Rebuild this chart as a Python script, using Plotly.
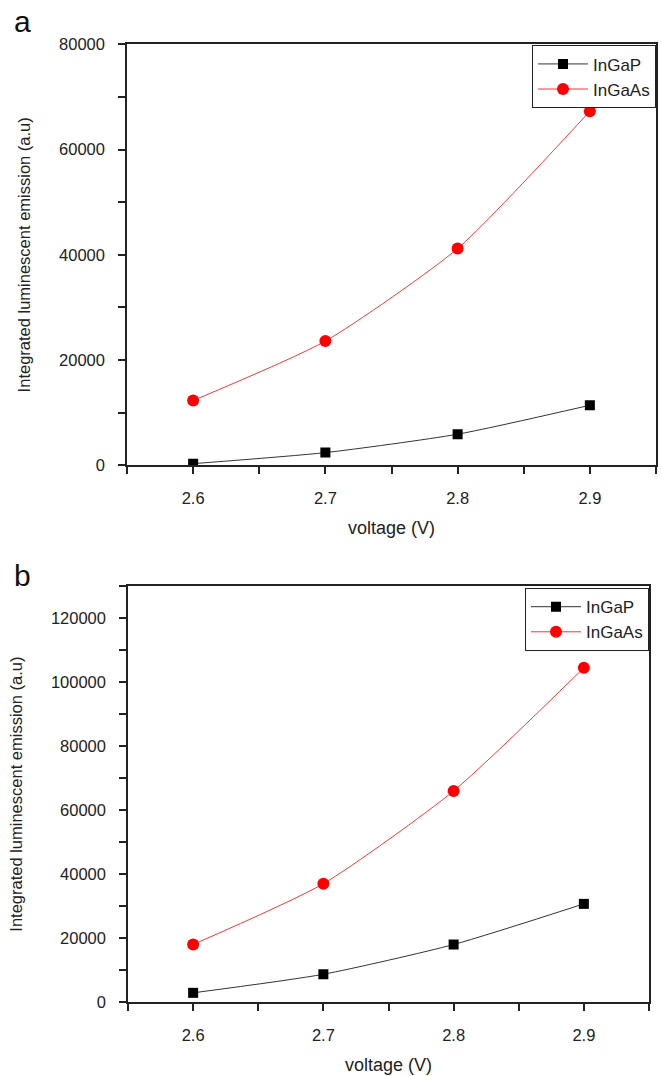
import plotly.graph_objects as go

# Applied voltage (V)
voltage = [2.6, 2.7, 2.8, 2.9]

# Panel a: integrated luminescent emission (a.u)
a_ingap = [300, 2400, 5900, 11400]
a_ingaas = [12300, 23600, 41200, 67300]

# Panel b: integrated luminescent emission (a.u)
b_ingap = [2900, 8700, 18000, 30700]
b_ingaas = [18000, 37000, 66000, 104500]

W, H = 662, 1076
FONT = "Liberation Sans, Arial, sans-serif"
AXC = "#222222"


def py(px):
    return 1 - px / H


fig = go.Figure()

series = [
    ("x", "y", "legend", a_ingap, a_ingaas),
    ("x2", "y2", "legend2", b_ingap, b_ingaas),
]
for xa, ya, lg, gap, gaas in series:
    fig.add_trace(go.Scatter(
        x=voltage, y=gap, name="InGaP", xaxis=xa, yaxis=ya, legend=lg,
        mode="lines+markers", line=dict(color="#333333", width=1, shape="spline", smoothing=0.6),
        marker=dict(symbol="square", size=10, color="black"),
    ))
    fig.add_trace(go.Scatter(
        x=voltage, y=gaas, name="InGaAs", xaxis=xa, yaxis=ya, legend=lg,
        mode="lines+markers", line=dict(color="#ff3333", width=1, shape="spline", smoothing=0.6),
        marker=dict(symbol="circle", size=12, color="#ff0000"),
    ))

xcommon = dict(
    range=[2.55, 2.95], tick0=2.6, dtick=0.1, ticks="outside", ticklen=7, tickwidth=1.5,
    tickcolor=AXC, showline=True, linecolor=AXC, linewidth=1.5, mirror=True,
    showgrid=False, zeroline=False, tickfont=dict(size=16.5, color="#222"),
    minor=dict(dtick=0.05, tick0=2.55, ticks="outside", ticklen=7, tickwidth=1.5, tickcolor=AXC),
    title=dict(text="voltage (V)", font=dict(size=18, color="#222"), standoff=16),
    ticklabelstandoff=10,
)
ycommon = dict(
    ticks="outside", ticklen=7, tickwidth=1.5, tickcolor=AXC, showline=True,
    linecolor=AXC, linewidth=1.5, mirror=True, showgrid=False, zeroline=False,
    tickformat="d", tickfont=dict(size=16.5, color="#222"), ticklabelstandoff=10,
    title=dict(text="Integrated luminescent emission (a.u)", font=dict(size=16.5, color="#222"),
               standoff=24),
)

legend_style = dict(
    xanchor="right", yanchor="top", bordercolor=AXC, borderwidth=1, bgcolor="white",
    font=dict(size=17, color="#222"), tracegroupgap=0, itemwidth=50,
)

fig.update_layout(
    width=W, height=H, margin=dict(l=0, r=0, t=0, b=0),
    paper_bgcolor="white", plot_bgcolor="white",
    font=dict(family=FONT, color="#222"),
    xaxis=dict(domain=[127 / W, 656 / W], anchor="y", **xcommon),
    yaxis=dict(domain=[py(464), py(36)], anchor="x", range=[0, 80000], dtick=20000,
               minor=dict(dtick=10000, ticks="outside", ticklen=7, tickwidth=1.5, tickcolor=AXC),
               **ycommon),
    xaxis2=dict(domain=[128 / W, 649 / W], anchor="y2", **xcommon),
    yaxis2=dict(domain=[py(1010), py(587)], anchor="x2", range=[0, 130000], dtick=20000,
                minor=dict(dtick=10000, ticks="outside", ticklen=7, tickwidth=1.5, tickcolor=AXC),
                **ycommon),
    legend=dict(x=656 / W, y=py(37), **legend_style),
    legend2=dict(x=649 / W, y=py(589), **legend_style),
    annotations=[
        dict(text="a", x=12 / W, y=py(32), xref="paper", yref="paper", xanchor="left",
             yanchor="bottom", showarrow=False, font=dict(size=30, color="#111")),
        dict(text="b", x=12 / W, y=py(595), xref="paper", yref="paper", xanchor="left",
             yanchor="bottom", showarrow=False, font=dict(size=30, color="#111")),
    ],
)

fig.write_html("out.html")
